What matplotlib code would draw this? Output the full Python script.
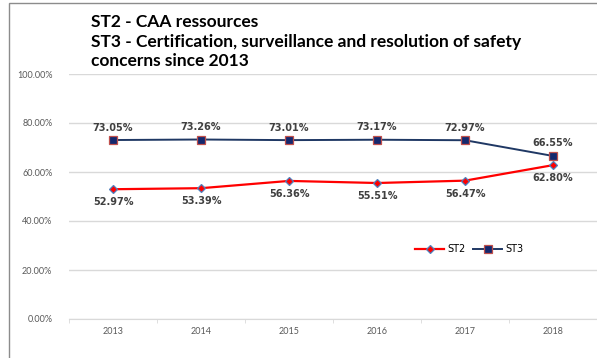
import matplotlib
matplotlib.use("Agg")
import matplotlib.pyplot as plt
from matplotlib.patches import Rectangle

# data
years = ["2013", "2014", "2015", "2016", "2017", "2018"]
st2 = [52.97, 53.39, 56.36, 55.51, 56.47, 62.80]
st3 = [73.05, 73.26, 73.01, 73.17, 72.97, 66.55]
y_ticks = [0, 20, 40, 60, 80, 100]
title_lines = ["ST2 - CAA ressources",
               "ST3 - Certification, surveillance and resolution of safety",
               "concerns since 2013"]

plt.rcParams['font.family'] = ['Lato', 'DejaVu Sans']

W, H = 597, 358
fig = plt.figure(figsize=(W / 100, H / 100), dpi=100)
# axes: x 69..597 px, y 74..319 px
ax = fig.add_axes([69 / W, 1 - 319 / H, 528 / W, 245 / H])

# frame of the picture (left and top edges visible)
fig.patches.append(Rectangle((9 / W, -0.1), 1.2, 1 - 3 / H + 0.1, transform=fig.transFigure,
                             fill=False, edgecolor="#8c8c8c", linewidth=1.0))

x = list(range(len(years)))
ax.plot(x, st2, color="#FF0000", linewidth=1.6, marker="D", markersize=4,
        markerfacecolor="#FF0000", markeredgecolor="#4F81BD", markeredgewidth=0.9,
        label="ST2", zorder=3)
ax.plot(x, st3, color="#1F3864", linewidth=1.4, marker="s", markersize=5.5,
        markerfacecolor="#14286E", markeredgecolor="#C0504D", markeredgewidth=0.9,
        label="ST3", zorder=3)

lbl = dict(fontsize=7, fontweight="bold", color="#404040", family="DejaVu Sans",
           textcoords="offset points", ha="center", va="center")
for i in x:
    ax.annotate(f"{st3[i]:.2f}%", (i, st3[i]), xytext=(0, 9), **lbl)
    ax.annotate(f"{st2[i]:.2f}%", (i, st2[i]), xytext=(0, -9.5), **lbl)

ax.set_xlim(-0.5, len(years) - 0.5)
ax.set_ylim(0, 100)
ax.set_yticks(y_ticks)
ax.set_yticklabels([f"{v:.2f}%" for v in y_ticks], fontsize=6.5, color="#595959")
ax.set_xticks(x)
ax.set_xticklabels(years, fontsize=6.5, color="#595959")
ax.tick_params(axis="x", length=0, pad=6)
ax.tick_params(axis="y", length=0, pad=12)
ax.set_xticks([i - 0.5 for i in range(len(years) + 1)], minor=True)
ax.tick_params(axis="x", which="minor", length=3, color="#d9d9d9")
ax.grid(axis="y", color="#d9d9d9", linewidth=1.0)
ax.set_axisbelow(True)
for s in ["left", "right", "top"]:
    ax.spines[s].set_visible(False)
ax.spines["bottom"].set_color("#d9d9d9")

for k, line in enumerate(title_lines):
    fig.text(91 / W, 1 - (22 + 19.5 * k) / H, line, fontsize=12.5, fontweight="bold",
             color="#000000", ha="left", va="center")

ax.legend(loc="center", bbox_to_anchor=(0.758, 0.286), ncol=2, frameon=False,
          prop={"family": "DejaVu Sans", "size": 7}, handlelength=3.0,
          columnspacing=0.8, handletextpad=0.3)

fig.savefig("out.png", dpi=100)
